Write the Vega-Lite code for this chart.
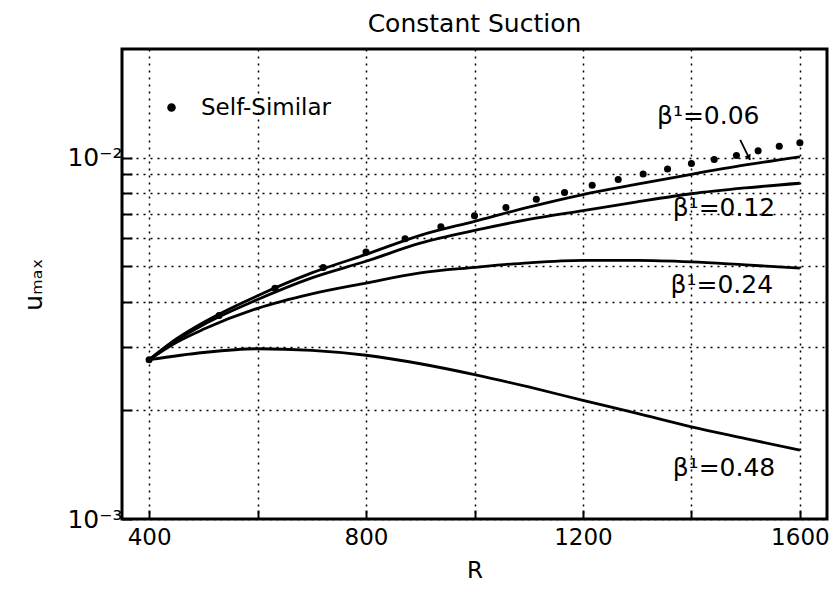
{
  "$schema": "https://vega.github.io/schema/vega-lite/v6.json",
  "autosize": {"type": "none"},
  "padding": {"left": 122, "top": 49, "right": 10, "bottom": 77},
  "width": 705,
  "height": 470,
  "background": "white",
  "title": {"text": "Constant Suction", "fontSize": 25, "font": "DejaVu Sans", "fontWeight": "normal", "color": "black", "offset": 12, "anchor": "middle"},
  "config": {
    "font": "DejaVu Sans",
    "view": {"stroke": "black", "strokeWidth": 3},
    "axis": {
      "domain": false,
      "grid": true,
      "gridColor": "black",
      "gridDash": [2, 5],
      "gridWidth": 1.5,
      "gridOpacity": 1,
      "tickColor": "black",
      "tickWidth": 2,
      "labelColor": "black",
      "titleColor": "black",
      "titleFontWeight": "normal",
      "labelFont": "DejaVu Sans",
      "titleFont": "DejaVu Sans"
    }
  },
  "datasets": {
    "curves": [
      {"beta": "0.06", "R": 400, "u": 0.00276},
      {"beta": "0.06", "R": 450, "u": 0.00315},
      {"beta": "0.06", "R": 500, "u": 0.0035},
      {"beta": "0.06", "R": 600, "u": 0.00415},
      {"beta": "0.06", "R": 700, "u": 0.0048},
      {"beta": "0.06", "R": 800, "u": 0.0054},
      {"beta": "0.06", "R": 900, "u": 0.0061},
      {"beta": "0.06", "R": 1000, "u": 0.00667},
      {"beta": "0.06", "R": 1100, "u": 0.0073},
      {"beta": "0.06", "R": 1200, "u": 0.00791},
      {"beta": "0.06", "R": 1300, "u": 0.00845},
      {"beta": "0.06", "R": 1400, "u": 0.009},
      {"beta": "0.06", "R": 1500, "u": 0.00955},
      {"beta": "0.06", "R": 1600, "u": 0.01006},
      {"beta": "0.12", "R": 400, "u": 0.00276},
      {"beta": "0.12", "R": 450, "u": 0.00312},
      {"beta": "0.12", "R": 500, "u": 0.00345},
      {"beta": "0.12", "R": 600, "u": 0.00405},
      {"beta": "0.12", "R": 700, "u": 0.00465},
      {"beta": "0.12", "R": 800, "u": 0.00517},
      {"beta": "0.12", "R": 900, "u": 0.0058},
      {"beta": "0.12", "R": 1000, "u": 0.00629},
      {"beta": "0.12", "R": 1100, "u": 0.00675},
      {"beta": "0.12", "R": 1200, "u": 0.00714},
      {"beta": "0.12", "R": 1300, "u": 0.00755},
      {"beta": "0.12", "R": 1400, "u": 0.00795},
      {"beta": "0.12", "R": 1500, "u": 0.00825},
      {"beta": "0.12", "R": 1600, "u": 0.0085},
      {"beta": "0.24", "R": 400, "u": 0.00276},
      {"beta": "0.24", "R": 450, "u": 0.00308},
      {"beta": "0.24", "R": 500, "u": 0.00335},
      {"beta": "0.24", "R": 600, "u": 0.00383},
      {"beta": "0.24", "R": 700, "u": 0.0042},
      {"beta": "0.24", "R": 800, "u": 0.0045},
      {"beta": "0.24", "R": 900, "u": 0.0048},
      {"beta": "0.24", "R": 1000, "u": 0.00497},
      {"beta": "0.24", "R": 1100, "u": 0.00512},
      {"beta": "0.24", "R": 1200, "u": 0.0052},
      {"beta": "0.24", "R": 1300, "u": 0.0052},
      {"beta": "0.24", "R": 1400, "u": 0.00515},
      {"beta": "0.24", "R": 1500, "u": 0.00505},
      {"beta": "0.24", "R": 1600, "u": 0.00495},
      {"beta": "0.48", "R": 400, "u": 0.00276},
      {"beta": "0.48", "R": 500, "u": 0.00289},
      {"beta": "0.48", "R": 600, "u": 0.00296},
      {"beta": "0.48", "R": 700, "u": 0.00293},
      {"beta": "0.48", "R": 800, "u": 0.00284},
      {"beta": "0.48", "R": 900, "u": 0.00269},
      {"beta": "0.48", "R": 1000, "u": 0.00251},
      {"beta": "0.48", "R": 1100, "u": 0.00232},
      {"beta": "0.48", "R": 1200, "u": 0.00213},
      {"beta": "0.48", "R": 1300, "u": 0.00196},
      {"beta": "0.48", "R": 1400, "u": 0.0018},
      {"beta": "0.48", "R": 1500, "u": 0.00167},
      {"beta": "0.48", "R": 1600, "u": 0.00155}
    ],
    "selfsim": [
      {"R": 400, "u": 0.00276},
      {"R": 529, "u": 0.00366},
      {"R": 632, "u": 0.00435},
      {"R": 721, "u": 0.00497},
      {"R": 800, "u": 0.00548},
      {"R": 872, "u": 0.00597},
      {"R": 938, "u": 0.00644},
      {"R": 1000, "u": 0.00691},
      {"R": 1058, "u": 0.00728},
      {"R": 1114, "u": 0.00768},
      {"R": 1166, "u": 0.00801},
      {"R": 1217, "u": 0.00839},
      {"R": 1265, "u": 0.00871},
      {"R": 1311, "u": 0.00902},
      {"R": 1356, "u": 0.00931},
      {"R": 1400, "u": 0.00964},
      {"R": 1442, "u": 0.00989},
      {"R": 1483, "u": 0.01015},
      {"R": 1523, "u": 0.01045},
      {"R": 1562, "u": 0.01076},
      {"R": 1600, "u": 0.011}
    ],
    "labels": [
      {"R": 1431, "u": 0.01305, "text": "β¹=0.06"},
      {"R": 1460, "u": 0.00724, "text": "β¹=0.12"},
      {"R": 1456, "u": 0.00444, "text": "β¹=0.24"},
      {"R": 1460, "u": 0.001382, "text": "β¹=0.48"}
    ],
    "arrow": [
      {"R": 1490, "u": 0.01121},
      {"R": 1508, "u": 0.00987}
    ],
    "arrowhead": [
      {"R": 1506, "u": 0.0100}
    ]
  },
  "encoding": {
    "x": {
      "field": "R",
      "type": "quantitative",
      "scale": {"domain": [350, 1650], "nice": false, "zero": false},
      "axis": {
        "values": [400, 600, 800, 1000, 1200, 1400, 1600],
        "labelExpr": "datum.value % 400 == 0 ? datum.label : ''",
        "format": "d",
        "tickSize": -9,
        "labelFontSize": 23,
        "labelPadding": 16,
        "title": "R",
        "titleFontSize": 23,
        "titlePadding": 10
      }
    },
    "y": {
      "field": "u",
      "type": "quantitative",
      "scale": {"type": "log", "domain": [0.001, 0.02], "nice": false},
      "axis": {
        "values": [0.001, 0.002, 0.003, 0.004, 0.005, 0.006, 0.007, 0.008, 0.009, 0.01],
        "labelExpr": "datum.value == 0.01 ? '10⁻²' : (datum.value == 0.001 ? '10⁻³' : '')",
        "tickSize": -10,
        "labelFontSize": 25,
        "labelPadding": 10,
        "title": "uₘₐₓ",
        "titleFontSize": 25,
        "titlePadding": 20
      }
    }
  },
  "layer": [
    {
      "data": {"name": "curves"},
      "mark": {"type": "line", "color": "black", "strokeWidth": 2.8, "interpolate": "monotone"},
      "encoding": {"detail": {"field": "beta"}}
    },
    {
      "data": {"name": "selfsim"},
      "mark": {"type": "point", "filled": true, "size": 50, "opacity": 1},
      "encoding": {
        "color": {
          "datum": "Self-Similar",
          "type": "nominal",
          "scale": {"range": ["black"]},
          "legend": {
            "orient": "none",
            "legendX": 38,
            "legendY": 47,
            "title": null,
            "labelFontSize": 23,
            "labelColor": "black",
            "labelOffset": 18,
            "symbolType": "circle",
            "symbolSize": 50,
            "symbolFillColor": "black",
            "symbolStrokeColor": "black",
            "symbolOpacity": 1
          }
        }
      }
    },
    {
      "data": {"name": "labels"},
      "mark": {"type": "text", "fontSize": 25, "color": "black", "align": "center", "baseline": "middle"},
      "encoding": {"text": {"field": "text"}}
    },
    {
      "data": {"name": "arrow"},
      "mark": {"type": "line", "color": "black", "strokeWidth": 1.8},
      "encoding": {}
    },
    {
      "data": {"name": "arrowhead"},
      "mark": {"type": "point", "shape": "triangle-down", "filled": true, "color": "black", "size": 45, "angle": -27, "opacity": 1},
      "encoding": {}
    }
  ]
}
